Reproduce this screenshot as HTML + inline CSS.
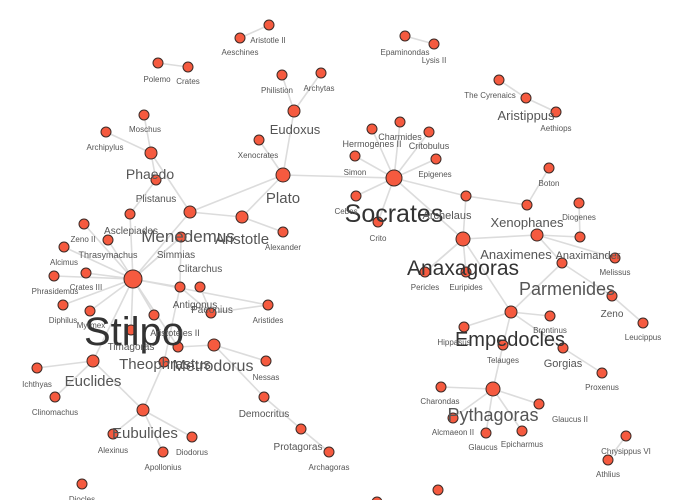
<!DOCTYPE html>
<html><head><meta charset="utf-8">
<style>
html,body{margin:0;padding:0;background:#fff;}
svg{display:block;}
text{font-family:"Liberation Sans",sans-serif;fill:#555;text-anchor:middle;}
</style></head>
<body>
<svg id="chart" width="680" height="500" viewBox="0 0 680 500" xmlns="http://www.w3.org/2000/svg">
<g id="edges"></g>
<g id="nodes"></g>
<g id="labels"></g>
</svg>
<script>
const nodeNames = ["Aristotle II","Aeschines","Polemo","Crates","Philistion","Archytas","Eudoxus","Xenocrates","Moschus","Archipylus","Phaedo","Plistanus","Plato","Menedemus","Simmias","Aristotle","Alexander","Asclepiades","Zeno II","Thrasymachus","Alcimus","Stilpo","Crates III","Phrasidemus","Diphilus","Myrmex","Timagoras","Aristoteles II","Antigonus","Clitarchus","Paeonius","Aristides","Nicias","Metrodorus","Theophrastus","Nessas","Euclides","Ichthyas","Clinomachus","Eubulides","Alexinus","Diodorus","Apollonius","Democritus","Protagoras","Archagoras","Diocles","Epaminondas","Lysis II","The Cyrenaics","Aristippus","Aethiops","Charmides","Hermogenes II","Critobulus","Simon","Epigenes","Socrates","Cebes","Crito","Archelaus","Boton","Xenophanes","Diogenes","Anaxagoras","Pericles","Euripides","Anaximenes","Anaximander","Parmenides","Melissus","Zeno","Leucippus","Empedocles","Brontinus","Hippasus","Telauges","Gorgias","Proxenus","Pythagoras","Charondas","Glaucus II","Alcmaeon II","Glaucus","Epicharmus","Chrysippus VI","Athlius","Node A","Node B"];
const nodeX = [269,240,158,188,282,321,294,259,144,106,151,156,283,190,181,242,283,130,84,108,64,133,86,54,63,90,131,154,180,200,211,268,178,214,164,266,93,37,55,143,113,192,163,264,301,329,82,405,434,499,526,556,400,372,429,355,436,394,356,378,466,549,527,579,463,425,466,537,580,562,615,612,643,511,550,464,503,563,602,493,441,539,453,486,522,626,608,377,438];
const nodeY = [25,38,63,67,75,73,111,140,115,132,153,180,175,212,237,217,232,214,224,240,247,279,273,276,305,311,330,315,287,287,313,305,347,345,362,361,361,368,397,410,434,437,452,397,429,452,484,36,44,80,98,112,122,129,132,156,159,178,196,222,196,168,205,203,239,272,272,235,237,263,258,296,323,312,316,327,345,348,373,389,387,404,418,433,431,436,460,502,490];
const nodeR = [5,5,5,5,5,5,6,5,5,5,6,5,7,6,5,6,5,5,5,5,5,9,5,5,5,5,5,5,5,5,5,5,5,6,5,5,6,5,5,6,5,5,5,5,5,5,5,5,5,5,5,5,5,5,5,5,5,8,5,5,5,5,5,5,7,5,5,6,5,5,5,5,5,6,5,5,5,5,5,7,5,5,5,5,5,5,5,5,5];
const labelSize = [8,8,8,8,8,8,13,8,8,8,14,10,15,17,10,15,8,10,8,9,8,40,8,8,8,8,10,9,10,10,10,8,9,16,15,8,15,8,8,15,8,8,8,10,10,8,8,8,8,8,13,8,9,9,9,8,8,25,8,8,11,8,13,8,21,8,8,13,11,18,8,10,8,20,8,8,8,11,8,18,8,8,8,8,8,8,8,8,8];
const labelX = [268,240,157,188,277,319,295,258,145,105,150,156,283,188,176,242,283,131,83,108,64,134,86,55,63,91,131,175,195,200,212,268,0,213,165,266,93,37,55,145,113,192,163,264,298,329,82,405,434,490,526,556,400,372,429,355,435,394,346,378,447,549,527,579,463,425,466,516,588,567,615,612,643,510,550,454,503,563,602,493,440,570,453,483,522,626,608,0,0];
const labelY = [43,55,82,84,93,91,134,158,132,150,179,202,203,242,258,244,250,234,242,258,265,345,290,294,323,328,350,336,308,272,313,323,0,371,369,380,386,387,415,438,453,455,470,417,450,470,502,55,63,98,120,131,140,147,149,175,177,222,214,241,219,186,227,220,275,290,290,259,259,295,275,317,340,346,333,345,363,367,390,421,404,422,435,450,447,454,477,0,0];
const edgeFrom = [1,2,47,49,50,4,5,6,7,12,12,12,15,15,8,9,10,10,11,17,13,18,19,20,22,23,24,25,26,27,14,21,28,28,21,29,30,21,21,32,21,33,33,43,44,36,36,36,34,39,39,39,28,57,57,57,57,57,57,57,57,57,60,60,64,61,64,67,67,67,63,69,69,71,64,64,64,73,73,73,73,77,76,79,79,79,79,79,85];
const edgeTo   = [0,3,48,50,51,6,6,12,12,57,13,15,16,13,10,10,11,13,17,21,21,21,21,21,21,21,21,21,21,21,21,14,14,30,28,30,31,31,36,33,32,35,43,44,45,37,38,39,39,40,41,42,34,52,53,54,55,56,58,59,60,64,62,64,67,62,65,68,70,69,68,71,73,72,66,65,73,74,75,76,77,78,79,80,81,82,83,84,86];

const svgNS = "http://www.w3.org/2000/svg";
const eg = document.getElementById('edges');
const ng = document.getElementById('nodes');
const lg = document.getElementById('labels');
for (let i = 0; i < edgeFrom.length; i++) {
  const a = edgeFrom[i], b = edgeTo[i];
  const l = document.createElementNS(svgNS, 'line');
  l.setAttribute('x1', nodeX[a]); l.setAttribute('y1', nodeY[a]);
  l.setAttribute('x2', nodeX[b]); l.setAttribute('y2', nodeY[b]);
  l.setAttribute('stroke', '#dcdcdc'); l.setAttribute('stroke-width', '1.6');
  
  
  eg.appendChild(l);
}
for (let i = 0; i < nodeNames.length; i++) {
  const c = document.createElementNS(svgNS, 'circle');
  c.setAttribute('cx', nodeX[i]); c.setAttribute('cy', nodeY[i]); c.setAttribute('r', nodeR[i]);
  c.setAttribute('fill', '#f55a3f'); c.setAttribute('stroke', '#3a2a26'); c.setAttribute('stroke-width', '1');
  
  
  ng.appendChild(c);
  if (labelX[i] > 0) {
    const t = document.createElementNS(svgNS, 'text');
    t.setAttribute('x', labelX[i]); t.setAttribute('y', labelY[i]);
    t.setAttribute('font-size', labelSize[i]);
    if (labelSize[i] >= 20) t.setAttribute('style', 'fill:#333');
    t.textContent = nodeNames[i];
    
    
    lg.appendChild(t);
  }
}
</script>
</body></html>
